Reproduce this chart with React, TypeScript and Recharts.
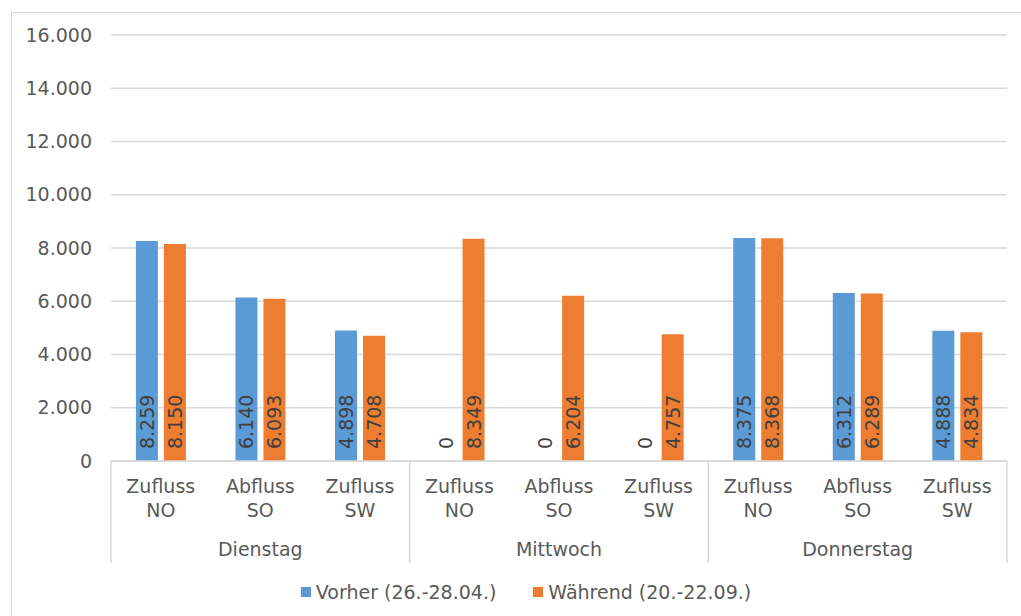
import { BarChart, Bar, XAxis, YAxis, CartesianGrid, Legend, LabelList } from 'recharts';

// Werte je Messpunkt und Tag
const days = ['Dienstag', 'Mittwoch', 'Donnerstag'];
const points = ['Zufluss NO', 'Abfluss SO', 'Zufluss SW'];
const vorher = [8259, 6140, 4898, 0, 0, 0, 8375, 6312, 4888];
const waehrend = [8150, 6093, 4708, 8349, 6204, 4757, 8368, 6289, 4834];
const yTicks = [0, 2000, 4000, 6000, 8000, 10000, 12000, 14000, 16000];
const seriesNames = ['Vorher (26.-28.04.)', 'Während (20.-22.09.)'];

const data = vorher.map((v, i) => ({
  id: String(i),
  day: days[Math.floor(i / points.length)],
  point: points[i % points.length],
  vorher: v,
  waehrend: waehrend[i],
}));

const BLUE = '#5B9BD5';
const ORANGE = '#ED7D31';
const GRID = '#D9D9D9';
const TEXT = '#595959';
const FONT = '"DejaVu Sans", sans-serif';

const W = 1021;
const H = 616;
const MARGIN = { top: 35, right: 14, left: 51, bottom: 0 };
const Y_W = 60;
const X_H = 102;
const LEG_H = 53;
const BAND = (W - MARGIN.left - MARGIN.right - Y_W) / data.length;

const fmt = (n: number) => String(n).replace(/\B(?=(\d{3})+(?!\d))/g, '.');

function CategoryTick(props: any) {
  const { x, y, payload } = props;
  const i = payload.index ?? props.index;
  const d = data[i];
  const [w1, w2] = d.point.split(' ');
  const half = BAND / 2;
  return (
    <g>
      <text x={x} y={y + 32} textAnchor="middle" fill={TEXT} fontSize={19}>{w1}</text>
      <text x={x} y={y + 56} textAnchor="middle" fill={TEXT} fontSize={19}>{w2}</text>
      {i % 3 === 1 && (
        <text x={x} y={y + 95} textAnchor="middle" fill={TEXT} fontSize={19}>{d.day}</text>
      )}
      {i % 3 === 0 && (
        <line x1={x - half} x2={x - half} y1={y} y2={y + X_H} stroke={GRID} strokeWidth={1.5} />
      )}
      {i === data.length - 1 && (
        <line x1={x + half} x2={x + half} y1={y} y2={y + X_H} stroke={GRID} strokeWidth={1.5} />
      )}
    </g>
  );
}

function BarValue(props: any) {
  const { x, y, width, height, value } = props;
  const cx = x + width / 2;
  const by = y + height - 12;
  return (
    <text
      x={cx}
      y={by}
      transform={`rotate(-90 ${cx} ${by})`}
      textAnchor="start"
      dominantBaseline="central"
      fill="#404040"
      fontSize={19}
    >
      {fmt(Math.round(value))}
    </text>
  );
}

function LegendBox() {
  const items = [
    { name: seriesNames[0], color: BLUE },
    { name: seriesNames[1], color: ORANGE },
  ];
  return (
    <div
      style={{
        height: LEG_H,
        display: 'flex',
        justifyContent: 'center',
        alignItems: 'center',
        paddingTop: 5,
        boxSizing: 'border-box',
        gap: 37,
        fontSize: 19,
        color: TEXT,
        fontFamily: FONT,
        marginLeft: -6,
      }}
    >
      {items.map((it) => (
        <span key={it.name} style={{ display: 'flex', alignItems: 'center', whiteSpace: 'nowrap' }}>
          <span style={{ width: 10, height: 10, background: it.color, marginRight: 5, display: 'inline-block' }} />
          {it.name}
        </span>
      ))}
    </div>
  );
}

export default function App() {
  return (
    <div
      style={{
        position: 'absolute',
        left: 0,
        top: 0,
        width: W,
        height: H,
        overflow: 'hidden',
        background: '#fff',
        fontFamily: FONT,
      }}
    >
      <div
        style={{
          position: 'absolute',
          left: 11,
          top: 12,
          width: W + 20,
          height: H + 20,
          border: `1.5px solid ${GRID}`,
        }}
      />
      <BarChart
        width={W}
        height={H}
        data={data}
        margin={MARGIN}
        barCategoryGap="25%"
        barGap={6}
      >
        <CartesianGrid vertical={false} stroke={GRID} strokeWidth={1.5} />
        <YAxis
          width={Y_W}
          domain={[0, 16000]}
          ticks={yTicks}
          tickFormatter={fmt}
          axisLine={false}
          tickLine={false}
          tickSize={0}
          tickMargin={19}
          tick={{ fill: TEXT, fontSize: 19 }}
        />
        <XAxis
          dataKey="id"
          height={X_H}
          interval={0}
          tickLine={false}
          tickSize={0}
          tickMargin={0}
          axisLine={{ stroke: GRID, strokeWidth: 1.5 }}
          tick={<CategoryTick />}
        />
        <Legend verticalAlign="bottom" height={LEG_H} content={() => <LegendBox />} />
        <Bar dataKey="vorher" name={seriesNames[0]} fill={BLUE} minPointSize={0.01} isAnimationActive={false}>
          <LabelList dataKey="vorher" content={<BarValue />} />
        </Bar>
        <Bar dataKey="waehrend" name={seriesNames[1]} fill={ORANGE} isAnimationActive={false}>
          <LabelList dataKey="waehrend" content={<BarValue />} />
        </Bar>
      </BarChart>
    </div>
  );
}
